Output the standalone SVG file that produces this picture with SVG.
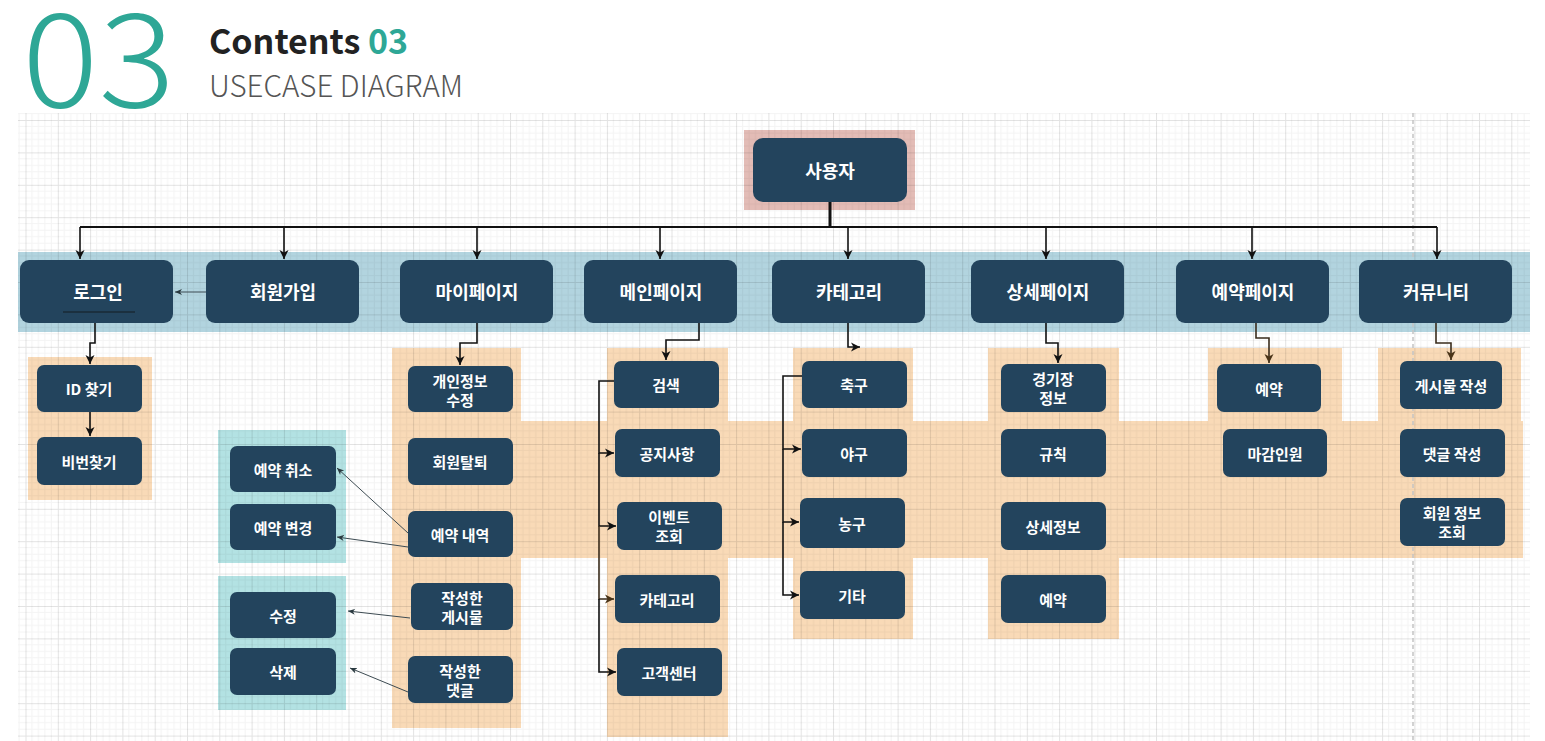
<svg xmlns="http://www.w3.org/2000/svg" width="1545" height="741" viewBox="0 0 1545 741">
<defs>
<pattern id="grid" patternUnits="userSpaceOnUse" x="25.5" y="120" width="32.3" height="32.4">
<path d="M6.46,0V32.4M12.92,0V32.4M19.38,0V32.4M25.84,0V32.4M0,6.48H32.3M0,12.96H32.3M0,19.44H32.3M0,25.92H32.3" stroke="#000" stroke-opacity="0.045" stroke-width="1" fill="none"/>
<path d="M0.5,0V32.4M0,0.5H32.3" stroke="#000" stroke-opacity="0.11" stroke-width="1" fill="none"/>
</pattern>
<marker id="ab" markerUnits="userSpaceOnUse" markerWidth="10" markerHeight="10" refX="9" refY="5" orient="auto"><path d="M0,0.5 L9,5 L0,9.5 L2.5,5 z" fill="#111"/></marker>
<marker id="abr" markerUnits="userSpaceOnUse" markerWidth="10" markerHeight="10" refX="9" refY="5" orient="auto"><path d="M0,0.5 L9,5 L0,9.5 L2.5,5 z" fill="#4a3418"/></marker>
<marker id="ag" markerUnits="userSpaceOnUse" markerWidth="8" markerHeight="8" refX="7" refY="4" orient="auto"><path d="M0,1 L7,4 L0,7 L2,4 z" fill="#2a3a40"/></marker>
</defs>
<style>
.n rect{fill:#23445d;}
.n text{fill:#fff;font-family:"Noto Sans CJK KR","Noto Sans",sans-serif;font-weight:700;text-anchor:middle;dominant-baseline:central;}
.t text{font-size:18px;}
.s text{font-size:15px;}
.c path{fill:none;}
.k{stroke:#111;stroke-width:1.6;marker-end:url(#ab);}
.br{stroke:#3a2c1c;stroke-width:1.6;marker-end:url(#abr);}
.g{stroke:#3d4b52;stroke-width:1;marker-end:url(#ag);}
.hd{font-family:"Noto Sans CJK KR","Noto Sans",sans-serif;}
</style>
<rect width="1545" height="741" fill="#fff"/>
<!-- title -->
<text class="hd" x="22" y="107" font-weight="300" font-size="131" fill="#2ea796" textLength="153" lengthAdjust="spacingAndGlyphs">03</text>
<text class="hd" x="209" y="54" font-weight="700" font-size="34" fill="#222">Contents <tspan fill="#2ea796">03</tspan></text>
<text class="hd" x="209" y="97" font-weight="300" font-size="29.5" fill="#555">USECASE DIAGRAM</text>
<!-- background zones -->
<g id="zones">
<rect x="744" y="130" width="171" height="80" fill="#e3bcb6"/>
<rect x="18" y="252" width="1512" height="80" fill="#b2d4df"/>
<rect x="28" y="357" width="124" height="143" fill="#f9dab7"/>
<rect x="218" y="430" width="128" height="133" fill="#b3e2e3"/>
<rect x="218" y="576" width="128" height="134" fill="#b3e2e3"/>
<g fill="#f9dab7">
<rect x="392" y="348" width="129" height="380"/>
<rect x="521" y="421" width="1002" height="137"/>
<rect x="607" y="348" width="121" height="389"/>
<rect x="793" y="348" width="120" height="291"/>
<rect x="988" y="348" width="131" height="291"/>
<rect x="1208" y="348" width="134" height="73"/>
<rect x="1378" y="348" width="143" height="73"/>
</g>
</g>
<rect x="18" y="113" width="1512" height="628" fill="url(#grid)"/>
<line x1="1413" y1="113" x2="1413" y2="741" stroke="#c4c4c4" stroke-width="1.5" stroke-dasharray="4,3"/>
<!-- connectors -->
<g id="connectors" class="c">
<path d="M830,202 V227" stroke="#111" stroke-width="3"/>
<path d="M80,227 H1437" stroke="#111" stroke-width="2"/>
<path class="k" d="M80,227 V259"/>
<path class="k" d="M284,227 V259"/>
<path class="k" d="M477,227 V259"/>
<path class="k" d="M660,227 V259"/>
<path class="k" d="M848,227 V259"/>
<path class="k" d="M1046,227 V259"/>
<path class="k" d="M1252,227 V259"/>
<path class="k" d="M1437,227 V259"/>
<path class="g" d="M206,292 H175"/>
<path class="k" d="M95,323 V343 H90 V364"/>
<path class="k" d="M90,412 V436"/>
<path class="k" d="M477,323 V343 H460 V365"/>
<path class="g" d="M408,533 L337,468"/>
<path class="g" d="M408,547 L337,537"/>
<path class="g" d="M410,618 L348,611"/>
<path class="g" d="M408,692 L350,668"/>
<path class="k" d="M699,323 V340 H666 V360"/>
<path class="k" d="M614,381 H599 V453 H614"/>
<path class="k" d="M599,453 V526 H616"/>
<path class="br" d="M599,526 V599 H614"/>
<path class="k" d="M599,599 V672 H616"/>
<path class="k" d="M848,323 V347 H860"/>
<path class="k" d="M802,376 H783 V449 H801"/>
<path class="k" d="M783,449 V522 H799"/>
<path class="k" d="M783,522 V595 H799"/>
<path class="k" d="M1046,323 V343 H1058 V363"/>
<path class="br" d="M1256,323 V338 H1269 V363"/>
<path class="br" d="M1436,323 V343 H1451 V360"/>
</g>
<!-- nodes -->
<g id="user" class="n t"><rect x="753" y="138" width="154" height="64" rx="10"/><text x="830" y="170">사용자</text></g>
<g id="login" class="n t"><rect x="20" y="260" width="153" height="63" rx="9"/><text x="98" y="291">로그인</text><line x1="63" y1="312" x2="135" y2="312" stroke="#1a2a36" stroke-width="1.5"/></g>
<g id="signup" class="n t"><rect x="206" y="260" width="153" height="63" rx="9"/><text x="283" y="291">회원가입</text></g>
<g id="mypage" class="n t"><rect x="400" y="260" width="153" height="63" rx="9"/><text x="477" y="291">마이페이지</text></g>
<g id="mainpage" class="n t"><rect x="584" y="260" width="153" height="63" rx="9"/><text x="661" y="291">메인페이지</text></g>
<g id="category" class="n t"><rect x="772" y="260" width="153" height="63" rx="9"/><text x="849" y="291">카테고리</text></g>
<g id="detail" class="n t"><rect x="971" y="260" width="153" height="63" rx="9"/><text x="1048" y="291">상세페이지</text></g>
<g id="reserve" class="n t"><rect x="1176" y="260" width="153" height="63" rx="9"/><text x="1253" y="291">예약페이지</text></g>
<g id="community" class="n t"><rect x="1359" y="260" width="153" height="63" rx="9"/><text x="1436" y="291">커뮤니티</text></g>

<g id="findid" class="n s"><rect x="37" y="365" width="105" height="47" rx="7"/><text x="89" y="388">ID 찾기</text></g>
<g id="findpw" class="n s"><rect x="37" y="437" width="105" height="48" rx="7"/><text x="89" y="461">비번찾기</text></g>
<g id="rescancel" class="n s"><rect x="230" y="446" width="106" height="46" rx="7"/><text x="283" y="469">예약 취소</text></g>
<g id="reschange" class="n s"><rect x="230" y="504" width="106" height="46" rx="7"/><text x="283" y="527">예약 변경</text></g>
<g id="edit" class="n s"><rect x="230" y="592" width="106" height="46" rx="7"/><text x="283" y="615">수정</text></g>
<g id="delete" class="n s"><rect x="230" y="648" width="106" height="47" rx="7"/><text x="283" y="671">삭제</text></g>

<g id="profile" class="n s"><rect x="408" y="366" width="105" height="46" rx="7"/><text x="460" y="380">개인정보</text><text x="460" y="399">수정</text></g>
<g id="withdraw" class="n s"><rect x="408" y="438" width="105" height="47" rx="7"/><text x="460" y="461">회원탈퇴</text></g>
<g id="reslist" class="n s"><rect x="408" y="511" width="105" height="46" rx="7"/><text x="460" y="534">예약 내역</text></g>
<g id="mypost" class="n s"><rect x="411" y="583" width="102" height="47" rx="7"/><text x="462" y="597">작성한</text><text x="462" y="616">게시물</text></g>
<g id="mycomment" class="n s"><rect x="408" y="656" width="105" height="47" rx="7"/><text x="460" y="670">작성한</text><text x="460" y="689">댓글</text></g>

<g id="search" class="n s"><rect x="614" y="361" width="105" height="47" rx="7"/><text x="666" y="384">검색</text></g>
<g id="notice" class="n s"><rect x="615" y="429" width="105" height="48" rx="7"/><text x="667" y="453">공지사항</text></g>
<g id="event" class="n s"><rect x="617" y="502" width="105" height="48" rx="7"/><text x="669" y="516">이벤트</text><text x="669" y="535">조회</text></g>
<g id="maincat" class="n s"><rect x="615" y="575" width="105" height="48" rx="7"/><text x="667" y="599">카테고리</text></g>
<g id="cs" class="n s"><rect x="617" y="648" width="105" height="48" rx="7"/><text x="669" y="672">고객센터</text></g>

<g id="soccer" class="n s"><rect x="802" y="361" width="105" height="47" rx="7"/><text x="854" y="384">축구</text></g>
<g id="baseball" class="n s"><rect x="802" y="429" width="105" height="48" rx="7"/><text x="854" y="453">야구</text></g>
<g id="basketball" class="n s"><rect x="800" y="498" width="105" height="50" rx="7"/><text x="852" y="523">농구</text></g>
<g id="etc" class="n s"><rect x="800" y="571" width="105" height="48" rx="7"/><text x="852" y="595">기타</text></g>

<g id="stadium" class="n s"><rect x="1001" y="364" width="105" height="48" rx="7"/><text x="1053" y="378">경기장</text><text x="1053" y="397">정보</text></g>
<g id="rules" class="n s"><rect x="1001" y="429" width="105" height="48" rx="7"/><text x="1053" y="453">규칙</text></g>
<g id="info" class="n s"><rect x="1001" y="502" width="105" height="48" rx="7"/><text x="1053" y="526">상세정보</text></g>
<g id="detailres" class="n s"><rect x="1001" y="575" width="105" height="48" rx="7"/><text x="1053" y="599">예약</text></g>

<g id="book" class="n s"><rect x="1217" y="364" width="104" height="48" rx="7"/><text x="1269" y="388">예약</text></g>
<g id="deadline" class="n s"><rect x="1223" y="429" width="104" height="48" rx="7"/><text x="1275" y="453">마감인원</text></g>

<g id="writepost" class="n s"><rect x="1400" y="361" width="102" height="48" rx="7"/><text x="1451" y="385">게시물 작성</text></g>
<g id="writecomment" class="n s"><rect x="1400" y="429" width="105" height="48" rx="7"/><text x="1452" y="453">댓글 작성</text></g>
<g id="memberinfo" class="n s"><rect x="1400" y="498" width="105" height="48" rx="7"/><text x="1452" y="512">회원 정보</text><text x="1452" y="531">조회</text></g>
</svg>
